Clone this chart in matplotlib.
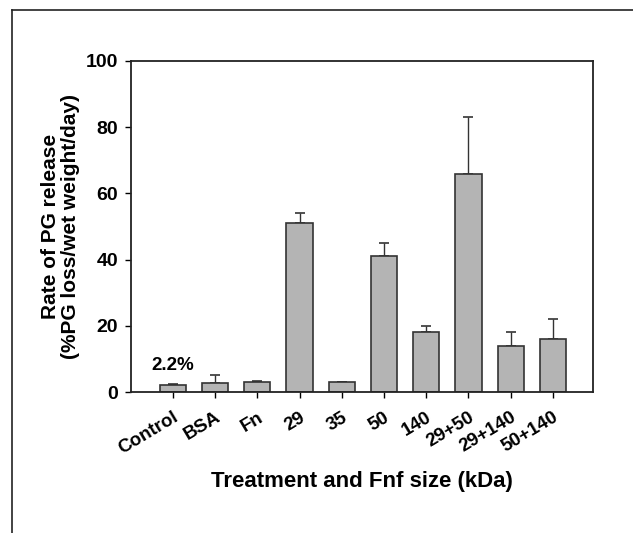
import numpy as np
import matplotlib
matplotlib.use("Agg")
import matplotlib.pyplot as plt
from matplotlib.lines import Line2D

plt.rcParams['font.family'] = ['Liberation Sans', 'DejaVu Sans']
plt.rcParams['font.weight'] = 'bold'

# data
treatments = ["Control", "BSA", "Fn", "29", "35", "50", "140", "29+50", "29+140", "50+140"]
rate = [2.2, 2.7, 2.9, 51.0, 2.9, 41.0, 18.0, 66.0, 14.0, 16.0]
err_up = [0.2, 2.4, 0.4, 3.0, 0.0, 4.0, 2.0, 17.0, 4.0, 6.0]
yticks = [0, 20, 40, 60, 80, 100]

fig = plt.figure(figsize=(6.33, 5.33), dpi=100)
ax = fig.add_axes([0.2065, 0.2645, 0.7303, 0.6211])

x = np.arange(len(treatments))
ax.bar(x, rate, width=0.62, color="#b4b4b4", edgecolor="#333333", linewidth=1.2, zorder=2)
# only the upper half of the error bars is shown
ax.errorbar(x, rate, yerr=[np.zeros(len(err_up)), err_up], fmt="none",
            ecolor="#333333", elinewidth=1.0, capsize=3.3, capthick=1.2, zorder=1)

ax.text(x[0], rate[0] + 3.2, "2.2%", ha="center", va="bottom", fontsize=13.5, fontweight="bold")

ax.set_xlim(-1, 9.95)
ax.set_ylim(0, 100)
ax.set_yticks(yticks)
ax.set_xticks(x)
ax.set_xticklabels(treatments, rotation=31, ha="right", rotation_mode="anchor",
                   fontsize=13.5, fontweight="bold")
ax.tick_params(axis="y", labelsize=14, direction="out", length=4, width=1, pad=5)
ax.tick_params(axis="x", direction="out", length=4, width=1, pad=8)
for s in ax.spines.values():
    s.set_linewidth(1.3)
    s.set_color("#222222")

ax.set_ylabel("Rate of PG release\n(%PG loss/wet weight/day)", fontsize=15,
              fontweight="bold", labelpad=4, linespacing=1.1)
ax.set_xlabel("Treatment and Fnf size (kDa)", fontsize=16, fontweight="bold", labelpad=10)

# frame lines on the top and left of the figure
fig.add_artist(Line2D([12/633, 12/633], [0, 1 - 10/533], color="#222222", lw=1.2))
fig.add_artist(Line2D([12/633, 1], [1 - 10/533, 1 - 10/533], color="#222222", lw=1.2))

fig.savefig("out.png", dpi=100)
